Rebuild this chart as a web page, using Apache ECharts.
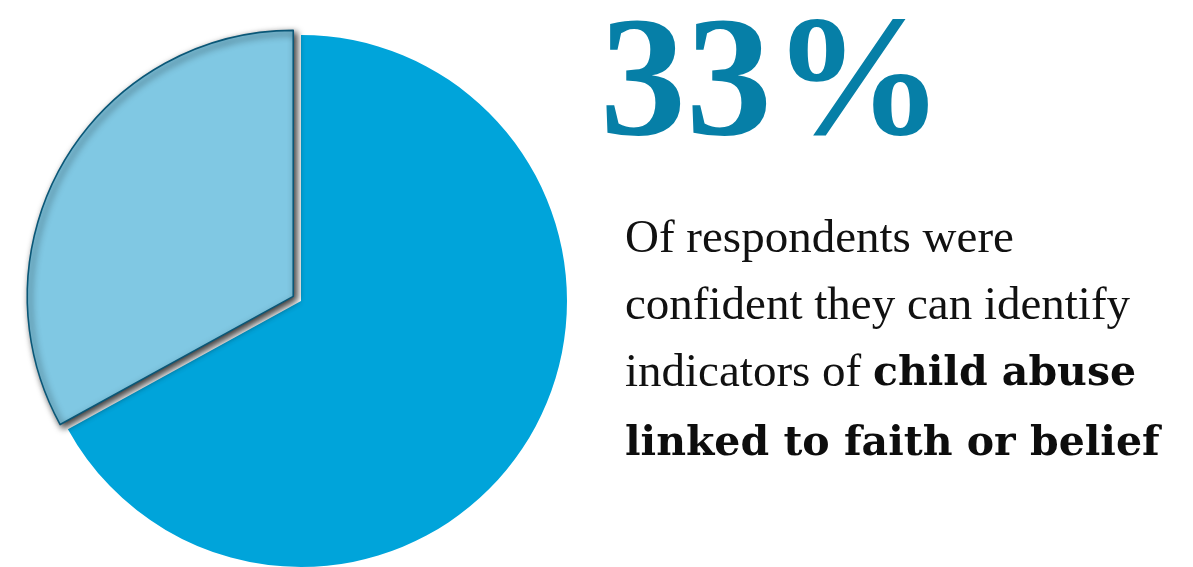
<!DOCTYPE html>
<html>
<head>
<meta charset="utf-8">
<style>
  html, body { margin: 0; padding: 0; background: #ffffff; }
  #chart { width: 1193px; height: 567px; }
</style>
<script src="https://cdn.jsdelivr.net/npm/echarts@6/dist/echarts.min.js"></script>
</head>
<body>
<div id="chart"></div>
<script>
// Survey result: share of respondents confident in identifying indicators
const sliceNames = ['Not confident', 'Confident'];
const sliceValues = [67, 33];
const sliceColors = ['#00a4da', '#80c8e3'];
const highlightIndex = 1;

const bodyLines = [
  [{ t: 'Of respondents were', b: false }],
  [{ t: 'confident they can identify', b: false }],
  [{ t: 'indicators of ', b: false }, { t: 'child abuse', b: true }],
  [{ t: 'linked to faith or belief', b: true }]
];

const chart = echarts.init(document.getElementById('chart'), null, { renderer: 'canvas' });

const pieData = sliceValues.map((v, i) => {
  const item = { name: sliceNames[i], value: v, itemStyle: { color: sliceColors[i] } };
  if (i === highlightIndex) {
    item.selected = true;
    item.itemStyle = {
      color: sliceColors[i],
      borderColor: '#0a5777',
      borderWidth: 1.6,
      shadowBlur: 7,
      shadowColor: 'rgba(0,0,0,0.8)',
      shadowOffsetX: 3,
      shadowOffsetY: 3
    };
  }
  return item;
});

const regularFont = '"Liberation Serif", "Times New Roman", serif';
const boldFont = '"DejaVu Serif", Georgia, serif';

const textElements = [
  {
    type: 'text',
    left: 600,
    top: 4,
    style: {
      text: sliceValues[highlightIndex] + '%',
      font: 'bold 172px ' + regularFont,
      fill: '#067fa7'
    }
  }
];

bodyLines.forEach((line, li) => {
  const text = line.map(seg => '{' + (seg.b ? 'b' : 'r') + '|' + seg.t + '}').join('');
  const boldOnly = line.every(seg => seg.b);
  textElements.push({
    type: 'text',
    left: 625,
    top: 216 + li * 67 + (boldOnly ? 7 : 0),
    style: {
      text: text,
      fill: '#111111',
      rich: {
        r: { font: '47px ' + regularFont, fill: '#111111', lineHeight: 54, verticalAlign: 'bottom' },
        b: { font: 'bold 41px ' + boldFont, fill: '#0d0d0d', lineHeight: 54, verticalAlign: 'bottom', padding: [0, 0, 2, 0] }
      }
    }
  });
});

chart.setOption({
  animation: false,
  series: [{
    type: 'pie',
    center: [301, 301],
    radius: 266,
    startAngle: 90,
    clockwise: true,
    selectedMode: 'single',
    selectedOffset: 9,
    label: { show: false },
    labelLine: { show: false },
    emphasis: { disabled: true },
    data: pieData
  }],
  graphic: textElements
});
</script>
</body>
</html>
